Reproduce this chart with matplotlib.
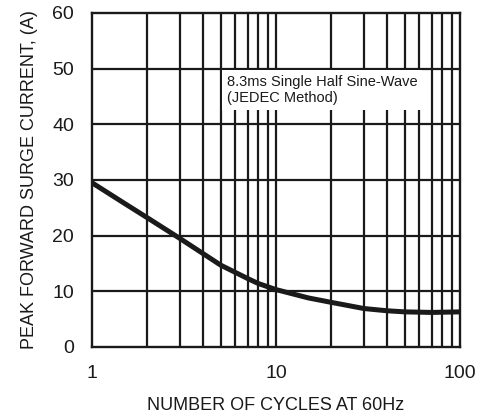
import numpy as np
import matplotlib
matplotlib.use("Agg")
from matplotlib import pyplot as plt
from matplotlib import font_manager

names = {f.name for f in font_manager.fontManager.ttflist}
fam = 'Liberation Sans Narrow' if 'Liberation Sans Narrow' in names else 'Liberation Sans'
plt.rcParams['font.family'] = [fam, 'DejaVu Sans']

# curve
cycles = [1, 1.5, 2, 3, 4, 5, 6, 7, 8, 10, 15, 20, 30, 40, 50, 70, 100]
current = [29.5, 25.8, 23.2, 19.5, 16.8, 14.7, 13.4, 12.3, 11.4, 10.3, 8.8, 8.0,
           6.9, 6.5, 6.3, 6.2, 6.3]

y_ticks = [0, 10, 20, 30, 40, 50, 60]
x_ticks = [1, 10, 100]
x_labels = ['1', '10', '100']

fig = plt.figure(figsize=(4.89, 4.16), dpi=100)
ax = fig.add_axes([0.188, 0.166, 0.753, 0.803])

ax.set_xscale('log')
ax.set_xlim(1, 100)
ax.set_ylim(0, 60)

# grid lines, all same weight
for d in [1, 10]:
    for k in range(2, 10):
        ax.axvline(d * k, color='#1a1a1a', lw=1.6, zorder=1)
for v in y_ticks[1:-1]:
    ax.axhline(v, color='#1a1a1a', lw=1.6, zorder=1)
ax.axvline(10, color='#1a1a1a', lw=1.6, zorder=1)

for s in ax.spines.values():
    s.set_linewidth(1.7)
    s.set_color('#1a1a1a')

ax.plot(cycles, current, color='#1a1a1a', lw=3.6, solid_capstyle='butt',
        solid_joinstyle='round', zorder=3)

ax.text(5.4, 48.9, '8.3ms Single Half Sine-Wave\n(JEDEC Method)', fontsize=10.5,
        va='top', ha='left', color='#1a1a1a', linespacing=1.25, zorder=4,
        bbox=dict(facecolor='white', edgecolor='none', pad=3.5))

ax.set_xticks(x_ticks)
ax.set_xticklabels(x_labels)
ax.xaxis.set_minor_locator(matplotlib.ticker.NullLocator())
ax.set_yticks(y_ticks)
ax.tick_params(length=0, pad=13, labelsize=14, colors='#1a1a1a')

ax.set_xlabel('NUMBER OF CYCLES AT 60Hz', fontsize=13, color='#1a1a1a', labelpad=11)
ax.set_ylabel('PEAK FORWARD SURGE CURRENT, (A)', fontsize=13, color='#1a1a1a', labelpad=10)

fig.savefig('out.png', dpi=100)
